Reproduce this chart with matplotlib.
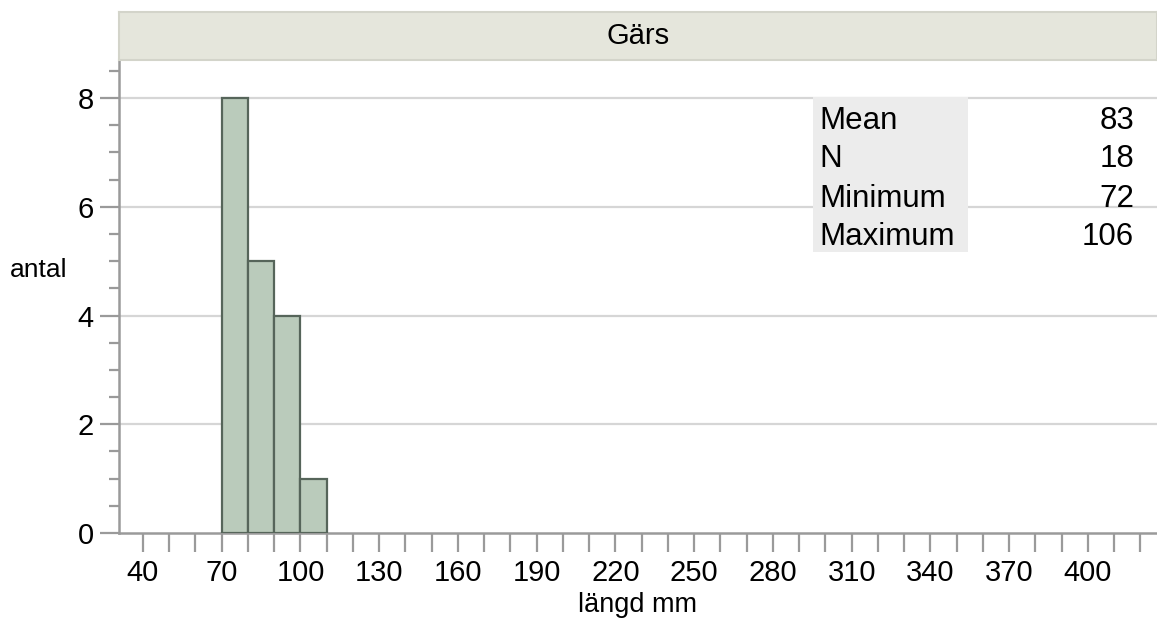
import matplotlib
matplotlib.use("Agg")
import matplotlib.pyplot as plt
from matplotlib.ticker import MultipleLocator, FixedLocator, FuncFormatter
from matplotlib.patches import Rectangle

plt.rcParams['font.family'] = ['Liberation Sans', 'DejaVu Sans']

# Data
bin_left = [70, 80, 90, 100]
bin_width = 10
counts = [8, 5, 4, 1]
title = "Gärs"
stat_names = ["Mean", "N", "Minimum", "Maximum"]
stat_values = ["83", "18", "72", "106"]
x_labeled = [40, 70, 100, 130, 160, 190, 220, 250, 280, 310, 340, 370, 400]

W, H = 1157, 620
fig = plt.figure(figsize=(W / 100, H / 100), dpi=100)

ax_l, ax_r, ax_b, ax_t = 119, 1157, 533, 60
ax = fig.add_axes([ax_l / W, 1 - ax_b / H, (ax_r - ax_l) / W, (ax_b - ax_t) / H])
ax.set_xlim(30.86, 426.3)
ax.set_ylim(0, 8.70)

axis_col = '#9a9a9a'
for s in ['top', 'right']:
    ax.spines[s].set_visible(False)
for s in ['left', 'bottom']:
    ax.spines[s].set_color(axis_col)
    ax.spines[s].set_linewidth(1.8)

ax.yaxis.set_major_locator(FixedLocator([0, 2, 4, 6, 8]))
ax.yaxis.set_minor_locator(MultipleLocator(0.5))
ax.xaxis.set_major_locator(MultipleLocator(10))
ax.xaxis.set_major_formatter(FuncFormatter(lambda v, p: f"{int(round(v))}" if int(round(v)) in x_labeled else ""))
ax.tick_params(axis='x', which='major', direction='out', length=14, width=1.6, color=axis_col,
               labelsize=21, pad=5)
ax.tick_params(axis='y', which='major', direction='out', length=14, width=1.6, color=axis_col,
               labelsize=21, pad=4)
ax.tick_params(axis='y', which='minor', direction='out', length=7, width=1.6, color=axis_col)

for yv in [2, 4, 6, 8]:
    ax.axhline(yv, color='#d6d6d6', lw=1.6, zorder=0)

ax.bar(bin_left, counts, width=bin_width, align='edge', color='#bacbbb',
       edgecolor='#56655a', linewidth=1.6, zorder=3)

ax.set_xlabel("längd mm", fontsize=19.5, labelpad=3)
fig.text(10 / W, 1 - 270 / H, "antal", fontsize=19, ha='left', va='center')

# Header band
hdr = fig.add_axes([ax_l / W, 1 - 60 / H, (W - ax_l) / W, 48 / H])
hdr.set_facecolor('#e5e6dc')
hdr.set_xticks([]); hdr.set_yticks([])
for s in hdr.spines.values():
    s.set_color('#d3d4ca'); s.set_linewidth(1.5)
hdr.text(0.5, 0.5, title, transform=hdr.transAxes, ha='center', va='center', fontsize=21)

# Stats table
fig.patches.append(Rectangle((813 / W, 1 - 252 / H), (968 - 813) / W, (252 - 97) / H,
                             transform=fig.transFigure, facecolor='#ececec', edgecolor='none', zorder=5))
row_y = [121, 159, 199, 237]
for name, val, y in zip(stat_names, stat_values, row_y):
    fig.text(819 / W, 1 - y / H, name, fontsize=22.5, ha='left', va='center', zorder=6)
    fig.text(1134 / W, 1 - y / H, val, fontsize=22.5, ha='right', va='center', zorder=6)

fig.savefig("out.png", dpi=100)
